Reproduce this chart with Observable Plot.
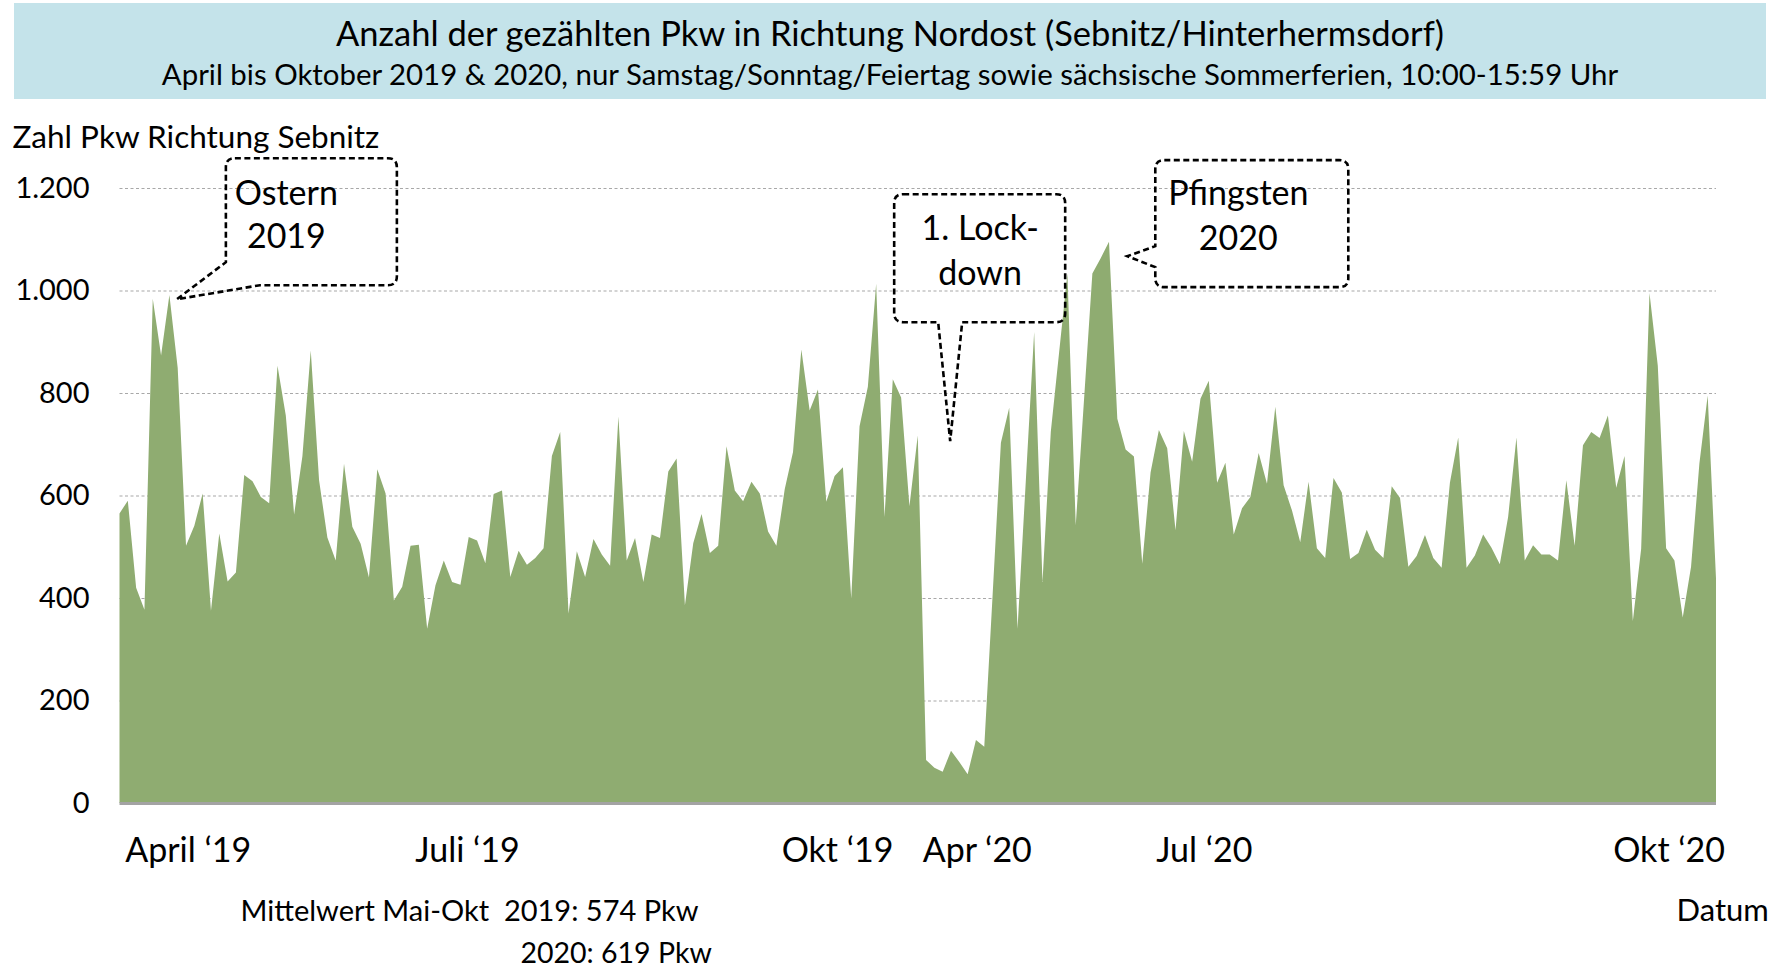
<!DOCTYPE html>
<html><head><meta charset="utf-8">
<script src="https://cdn.jsdelivr.net/npm/d3@7"></script>
<script src="https://cdn.jsdelivr.net/npm/@observablehq/plot@0.6"></script>
<style>
body{margin:0;background:#fff;font-family:Lato,"Open Sans",sans-serif;color:#000;}
#title{position:relative;margin:3px 13px 0 14px;height:96px;background:#c4e3ea;text-align:center;}
#t1{position:absolute;left:0;right:0;top:10px;font-size:34.5px;line-height:40px;white-space:nowrap;}
#t2{position:absolute;left:0;right:0;top:53.5px;font-size:29.4px;line-height:34px;white-space:nowrap;}
#chart svg{display:block;}
</style></head><body>
<div id="title">
  <div id="t1">Anzahl der gezählten Pkw in Richtung Nordost (Sebnitz/Hinterhermsdorf)</div>
  <div id="t2">April bis Oktober 2019 &amp; 2020, nur Samstag/Sonntag/Feiertag sowie sächsische Sommerferien, 10:00-15:59 Uhr</div>
</div>
<div id="chart"></div>
<script>
// Counted cars per day (weekends/holidays/summer holidays), Apr–Oct 2019 then Apr–Oct 2020
const pkw = [
  565, 590, 420, 377, 984, 873, 991, 849, 502, 541, 604, 375, 526, 432, 450, 640, 628, 597, 585, 853,
  756, 563, 677, 883, 630, 518, 473, 662, 539, 506, 440, 651, 604, 395, 422, 502, 504, 340, 425, 473,
  431, 426, 519, 512, 468, 603, 610, 441, 492, 465, 478, 497, 677, 724, 370, 491, 441, 515, 485, 463,
  754, 473, 517, 431, 524, 517, 647, 672, 386, 507, 564, 488, 502, 696, 610, 589, 627, 604, 530, 502,
  612, 685, 885, 766, 807, 588, 638, 655, 399, 735, 812, 1013, 558, 827, 791, 579, 717, 84, 69, 61,
  102, 80, 56, 123, 110, 405, 703, 771, 340, 630, 919, 431, 724, 879, 1033, 542, 788, 1033, 1063, 1095,
  750, 690, 676, 467, 645, 728, 692, 532, 726, 666, 789, 824, 625, 664, 524, 575, 597, 683, 623, 773,
  620, 571, 509, 627, 497, 478, 634, 606, 476, 488, 533, 494, 478, 618, 595, 461, 482, 523, 478, 459,
  625, 713, 459, 483, 524, 498, 466, 558, 713, 473, 503, 485, 485, 473, 630, 502, 698, 724, 712, 756,
  615, 677, 355, 496, 995, 853, 497, 473, 362, 461, 662, 795, 438
];
const yTicks = [0, 200, 400, 600, 800, 1000, 1200];
const xTickPos = [8.2, 41.8, 86.3, 103.1, 130.4, 186.3];
const xTickLabels = ["April ‘19", "Juli ‘19", "Okt ‘19", "Apr ‘20", "Jul ‘20", "Okt ‘20"];
const yLabel = "Zahl Pkw Richtung Sebnitz";
const xLabel = "Datum";
const meanLines = ["Mittelwert Mai-Okt\u00a0 2019: 574 Pkw", "2020: 619 Pkw"];
const callouts = [
  {lines: ["Ostern", "2019"], tipIndex: 6.9, tipValue: 983},
  {lines: ["1. Lock-", "down"], tipIndex: 99.9, tipValue: 706},
  {lines: ["Pfingsten", "2020"], tipIndex: 121.2, tipValue: 1067}
];

const data = pkw.map((v, i) => ({i, v}));
const de = d3.formatLocale({decimal: ",", thousands: ".", grouping: [3], currency: ["", "€"]}).format(",");

const W = 1779, H = 870, mL = 119.5, mR = 63, mT = 89, mB = 166;
const FONT = "Lato, 'Open Sans', sans-serif";

const chart = Plot.plot({
  width: W, height: H,
  marginLeft: mL, marginRight: mR, marginTop: mT, marginBottom: mB,
  style: {fontFamily: FONT, fontSize: "28px", color: "#000", background: "transparent", overflow: "visible"},
  x: {domain: [0, pkw.length - 1], axis: null},
  y: {domain: [0, 1200], axis: null},
  marks: [
    Plot.ruleY(yTicks.filter(d => d > 0), {stroke: "#a8a8a8", strokeWidth: 1.2, strokeDasharray: "3,2.5"}),
    Plot.areaY(data, {x: "i", y: "v", fill: "#8fac71"}),
    Plot.ruleY([0], {stroke: "#a3a3a3", strokeWidth: 3}),
    Plot.text(yTicks, {y: d => d, text: d => de(d), frameAnchor: "left", textAnchor: "end", dx: -30.5, fontSize: 29, fill: "#000"}),
    Plot.text(xTickPos, {x: d => d, text: (d, i) => xTickLabels[i], frameAnchor: "bottom", lineAnchor: "bottom", dy: 58, fontSize: 34, fill: "#000"}),
    Plot.text([yLabel], {frameAnchor: "top-left", textAnchor: "start", lineAnchor: "bottom", dx: 12 - mL, dy: 48 - mT, fontSize: 31.5, fill: "#000"}),
    Plot.text([meanLines[0]], {frameAnchor: "bottom-left", textAnchor: "start", lineAnchor: "bottom", dx: 240 - mL, dy: 117, fontSize: 29, fill: "#000"}),
    Plot.text([meanLines[1]], {frameAnchor: "bottom-left", textAnchor: "start", lineAnchor: "bottom", dx: 520 - mL, dy: 159, fontSize: 28.5, fill: "#000"}),
    Plot.text([xLabel], {frameAnchor: "bottom-left", textAnchor: "start", lineAnchor: "bottom", dx: 1676 - mL, dy: 117, fontSize: 31, fill: "#000"})
  ]
});
document.getElementById("chart").appendChild(chart);

// callout boxes, anchored at their tip through the same linear scales
const xs = d3.scaleLinear([0, pkw.length - 1], [mL, W - mR]);
const ys = d3.scaleLinear([0, 1200], [H - mB, mT]);
const geom = [
  {box: {l: 49, r: 220, t: -141, b: -14}, ptr: "corner", a: -37, b: 83, tx: 109.5, ty: [-94, -51]},
  {box: {l: -56, r: 115, t: -247, b: -119}, ptr: "bottom", a: -12, b: 12, tx: 30, ty: [-201, -156]},
  {box: {l: 28, r: 221, t: -96, b: 31}, ptr: "left", a: -10, b: 11, tx: 111, ty: [-51, -6]}
];
const svg = d3.select(chart);
const g = svg.append("g");
callouts.forEach((c, k) => {
  const G = geom[k];
  const px = xs(c.tipIndex), py = ys(c.tipValue);
  const x0 = px + G.box.l, x1 = px + G.box.r, y0 = py + G.box.t, y1 = py + G.box.b, r = 9;
  let p = `M${x0 + r},${y0}H${x1 - r}Q${x1},${y0} ${x1},${y0 + r}V${y1 - r}Q${x1},${y1} ${x1 - r},${y1}`;
  if (G.ptr === "bottom") {
    p += `H${px + G.b}L${px},${py}L${px + G.a},${y1}H${x0 + r}Q${x0},${y1} ${x0},${y1 - r}V${y0 + r}`;
  } else if (G.ptr === "left") {
    p += `H${x0 + r}Q${x0},${y1} ${x0},${y1 - r}V${py + G.b}L${px},${py}L${x0},${py + G.a}V${y0 + r}`;
  } else {
    p += `H${px + G.b}L${px},${py}L${x0},${py + G.a}V${y0 + r}`;
  }
  p += `Q${x0},${y0} ${x0 + r},${y0}Z`;
  g.append("path").attr("d", p).attr("fill", "none").attr("stroke", "#000")
    .attr("stroke-width", 2.6).attr("stroke-dasharray", "6,3.5");
  c.lines.forEach((t, j) => {
    g.append("text").attr("x", px + G.tx).attr("y", py + G.ty[j])
      .attr("text-anchor", "middle").attr("font-family", FONT).attr("font-size", 34)
      .attr("fill", "#000").text(t);
  });
});
</script>
</body></html>
